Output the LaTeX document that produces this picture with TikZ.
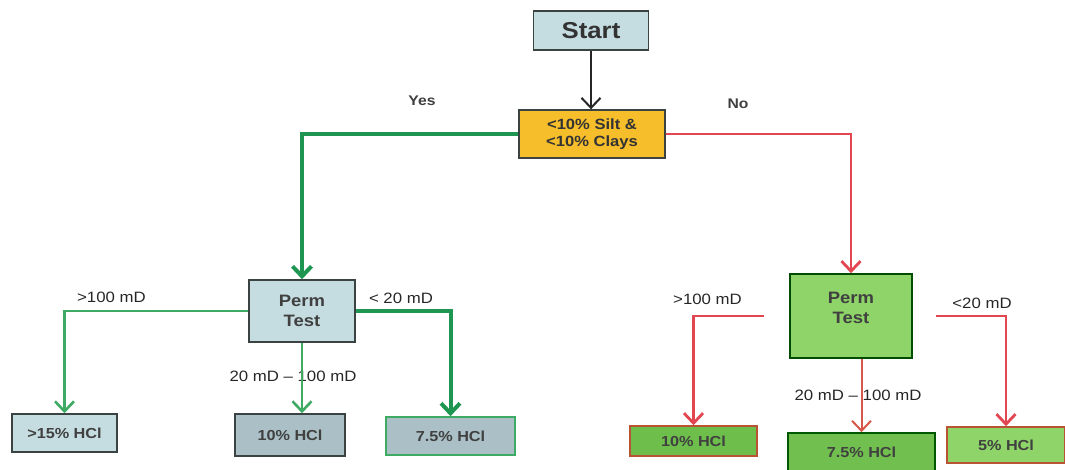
\documentclass[tikz,border=0pt]{standalone}
\usepackage{fontspec}
\setmainfont{Liberation Sans}[FakeStretch=1.12]
\usetikzlibrary{arrows.meta,positioning}
\definecolor{FlowBlue}{RGB}{197,220,224}
\definecolor{FlowBlueDark}{RGB}{170,192,198}
\definecolor{FlowGold}{RGB}{246,190,42}
\definecolor{FlowGreen}{RGB}{142,212,104}
\definecolor{FlowGreenDark}{RGB}{110,190,76}
\definecolor{FlowEdge}{RGB}{58,66,66}
\definecolor{FlowRust}{RGB}{184,84,52}
\definecolor{YesLine}{RGB}{30,150,82}
\definecolor{YesLineLight}{RGB}{62,170,100}
\definecolor{NoLine}{RGB}{226,70,80}
\tikzset{
  startbox/.style={draw=FlowEdge, fill=FlowBlue, line width=1.8pt,
                   font=\fontsize{23}{26}\selectfont\bfseries, text=black!80},
  choicebox/.style={draw=FlowEdge, fill=FlowGold, line width=1.4pt, align=center,
                   font=\fontsize{14.8}{17.5}\selectfont\bfseries, text=black!80},
  permbox/.style={draw=FlowEdge, line width=1.6pt, align=center,
                   font=\fontsize{16.5}{20}\selectfont\bfseries, text=black!75},
  acidbox/.style={draw=FlowEdge, line width=1.6pt,
                   font=\fontsize{14.5}{17}\selectfont\bfseries, text=black!75},
  cond/.style={font=\fontsize{15}{17}\selectfont, text=black!85},
  answer/.style={font=\fontsize{14}{16}\selectfont\bfseries, text=black!75},
  tipV/.style={-{Straight Barb[length=10pt,width=19pt]}},
  yesline/.style={tipV, YesLine, line width=4pt},
  yesthin/.style={tipV, YesLineLight, line width=2.6pt},
  noline/.style={tipV, NoLine, line width=2.8pt},
}

\begin{document}
\begin{tikzpicture}[x=1pt, y=-1pt]
  \useasboundingbox (0,0) rectangle (1065,470);

  % Top of the chart
  \node[startbox, minimum width=115pt, minimum height=39pt] (start) at (591,30.5) {Start};
  \node[choicebox, minimum width=146pt, minimum height=48pt] (silt) at (592,134)
    {<10\% Silt \&\\<10\% Clays};
  \node[answer] (yes) at (422,101) {Yes};
  \node[answer] (no) at (738,104) {No};

  % Yes side
  \node[permbox, fill=FlowBlue, minimum width=106pt, minimum height=62pt] (permL) at (302,311)
    {Perm\\Test};
  \node[acidbox, fill=FlowBlue, minimum width=105pt, minimum height=38pt] (hclA) at (64.5,433)
    {>15\% HCl};
  \node[acidbox, fill=FlowBlueDark, minimum width=110pt, minimum height=42pt] (hclB) at (290,435)
    {10\% HCl};
  \node[acidbox, fill=FlowBlueDark, draw=YesLineLight, minimum width=129pt, minimum height=38pt] (hclC)
    at (450.5,436) {7.5\% HCl};
  \node[cond] at (111.5,297) {>100 mD};
  \node[cond] at (401,298) {< 20 mD};
  \node[cond] at (293,376) {20 mD -- 100 mD};

  % No side
  \node[permbox, fill=FlowGreen, draw=black!70!green, minimum width=122pt, minimum height=84pt] (permR)
    at (851,316) {Perm\\Test\\[-4pt]~};
  \node[acidbox, fill=FlowGreenDark, draw=FlowRust, minimum width=127pt, minimum height=30pt] (hclD)
    at (693.5,441) {10\% HCl};
  \node[acidbox, fill=FlowGreenDark!90!FlowGreen, draw=black!65!green, minimum width=147pt,
        minimum height=38pt] (hclE) at (861.5,452) {7.5\% HCl};
  \node[acidbox, fill=FlowGreen, draw=FlowRust, minimum width=118pt, minimum height=36pt] (hclF)
    at (1006,445) {5\% HCl};
  \node[cond] at (707.5,299) {>100 mD};
  \node[cond] at (982,303) {<20 mD};
  \node[cond] at (858,395) {20 mD -- 100 mD};

  % Connectors
  \draw[tipV, black!85, line width=2pt] (start) -- (start |- silt.north);
  \draw[yesline] (silt.west) -| (permL.north);
  \draw[noline] (silt.east) -| (permR.north);
  \draw[yesthin] (permL.west) -| (hclA.north);
  \draw[yesthin] (permL.south) -- (permL.south |- hclB.north);
  \draw[yesline] (permL.east) -| (hclC.north);
  \draw[noline, shorten <=25pt] (permR.west) -| (hclD.north);
  \draw[noline, NoLine!70!brown, line width=2pt] (permR.south -| hclE.north) -- (hclE.north);
  \draw[noline, shorten <=23pt] (permR.east) -| (hclF.north);
\end{tikzpicture}
\end{document}
